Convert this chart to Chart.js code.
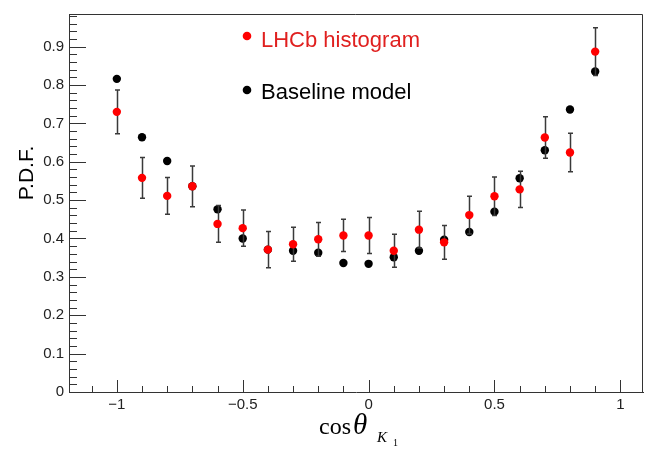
<!DOCTYPE html>
<html>
<head>
<meta charset="utf-8">
<script src="https://cdn.jsdelivr.net/npm/chart.js@4"></script>
<style>
  html, body { margin: 0; padding: 0; background: #fff; }
</style>
</head>
<body>
<canvas id="myChart" width="658" height="457"></canvas>
<script>
// bin centres of cos(theta_K1)
var cosTheta = [-1, -0.9, -0.8, -0.7, -0.6, -0.5, -0.4, -0.3, -0.2, -0.1, 0, 0.1, 0.2, 0.3, 0.4, 0.5, 0.6, 0.7, 0.8, 0.9];
// LHCb histogram + its errors
var lhcb = [0.730, 0.558, 0.511, 0.536, 0.438, 0.427, 0.371, 0.385, 0.398, 0.408, 0.408, 0.368, 0.423, 0.390, 0.461, 0.510, 0.528, 0.663, 0.624, 0.887];
var lhcbErr = [0.057, 0.053, 0.048, 0.053, 0.048, 0.047, 0.047, 0.044, 0.044, 0.042, 0.047, 0.043, 0.048, 0.044, 0.049, 0.050, 0.047, 0.054, 0.050, 0.062];
// baseline model (hidden under the red points at -0.7 and -0.4)
var baseline = [0.816, 0.664, 0.602, 0.536, 0.476, 0.400, 0.371, 0.368, 0.363, 0.336, 0.334, 0.351, 0.368, 0.397, 0.417, 0.470, 0.557, 0.630, 0.736, 0.835];

var xRange = [-1.19, 1.09];
var yRange = [0, 0.985];
var xStep = 0.5, xMinor = 0.1;
var yStep = 0.1, yMinor = 0.02;

function toPoints(ys) {
  return cosTheta.map(function(x, i) { return { x: x, y: ys[i] }; });
}
function fmt(v) {
  var r = Math.round(v * 10) / 10;
  return (r < 0 ? '\u2212' : '') + Math.abs(r);
}

// ticks inside the frame, error bars, legend and axis titles
var rootStyle = {
  id: 'rootStyle',
  beforeDatasetDraw: function(chart, args) {
    if (args.index !== 0) return;
    var ctx = chart.ctx, xs = chart.scales.x, ys = chart.scales.y;
    ctx.save();
    ctx.strokeStyle = '#3a3a3a';
    ctx.lineWidth = 1.5;
    cosTheta.forEach(function(x, i) {
      var px = Math.round(xs.getPixelForValue(x)) + 0.5;
      var top = ys.getPixelForValue(lhcb[i] + lhcbErr[i]);
      var bot = ys.getPixelForValue(lhcb[i] - lhcbErr[i]);
      ctx.beginPath();
      ctx.moveTo(px, top); ctx.lineTo(px, bot);
      ctx.moveTo(px - 2.5, top); ctx.lineTo(px + 2.5, top);
      ctx.moveTo(px - 2.5, bot); ctx.lineTo(px + 2.5, bot);
      ctx.stroke();
    });
    ctx.restore();
  },
  afterDraw: function(chart) {
    var ctx = chart.ctx, a = chart.chartArea, xs = chart.scales.x, ys = chart.scales.y;
    ctx.save();
    // frame top + right
    ctx.strokeStyle = '#333';
    ctx.lineWidth = 1;
    ctx.beginPath();
    ctx.moveTo(a.left, a.top + 0.5); ctx.lineTo(a.right - 0.5, a.top + 0.5); ctx.lineTo(a.right - 0.5, a.bottom);
    ctx.stroke();
    // y ticks
    ctx.beginPath();
    for (var k = 0; k * yMinor <= yRange[1] + 1e-9; k++) {
      var v = k * yMinor;
      var py = Math.round(ys.getPixelForValue(v)) + 0.5;
      var len = (k % 5 === 0) ? 17 : 8;
      ctx.moveTo(a.left, py); ctx.lineTo(a.left + len, py);
    }
    // x ticks
    for (var j = Math.ceil(xRange[0] / xMinor); j * xMinor <= xRange[1] + 1e-9; j++) {
      var px = Math.round(xs.getPixelForValue(j * xMinor)) + 0.5;
      var l2 = (j % 5 === 0) ? 12 : 6;
      ctx.moveTo(px, a.bottom); ctx.lineTo(px, a.bottom - l2);
    }
    ctx.stroke();

    // legend
    var ds = chart.data.datasets;
    var leg = [
      { ds: ds[0], y: 36, base: 47, text: '#e0201f' },
      { ds: ds[1], y: 90, base: 99, text: '#000' }
    ];
    ctx.font = '22px "Liberation Sans", Arial, sans-serif';
    ctx.textAlign = 'left';
    ctx.textBaseline = 'alphabetic';
    leg.forEach(function(it) {
      ctx.fillStyle = it.ds.backgroundColor;
      ctx.beginPath();
      ctx.arc(247, it.y, 4.3, 0, Math.PI * 2);
      ctx.fill();
      ctx.fillStyle = it.text;
      ctx.fillText(it.ds.label, 261, it.base);
    });

    // y title
    ctx.save();
    ctx.translate(33, 173);
    ctx.rotate(-Math.PI / 2);
    ctx.fillStyle = '#000';
    ctx.textAlign = 'center';
    ctx.font = '21px "Liberation Sans", Arial, sans-serif';
    ctx.fillText('P.D.F.', 0, 0);
    ctx.restore();

    // x title: cos theta_{K_1}
    ctx.fillStyle = '#000';
    ctx.textAlign = 'left';
    ctx.font = '24px "Liberation Serif", "Times New Roman", serif';
    ctx.fillText('cos', 319, 434);
    ctx.font = 'italic 29px "Liberation Serif", "Times New Roman", serif';
    ctx.fillText('\u03b8', 353, 434);
    ctx.font = 'italic 15px "Liberation Serif", "Times New Roman", serif';
    ctx.fillText('K', 377, 442);
    ctx.font = '10px "Liberation Serif", "Times New Roman", serif';
    ctx.fillText('1', 393, 446);
    ctx.restore();
  }
};

var ctx = document.getElementById('myChart').getContext('2d');
var chart = new Chart(ctx, {
  type: 'scatter',
  data: {
    datasets: [{
      label: 'LHCb histogram',
      data: toPoints(lhcb),
      backgroundColor: '#ff0000',
      borderWidth: 0,
      pointRadius: 4.2
    },
    {
      label: 'Baseline model',
      data: toPoints(baseline),
      backgroundColor: '#000000',
      borderWidth: 0,
      pointRadius: 4.2
    }]
  },
  options: {
    responsive: false,
    devicePixelRatio: 1,
    animation: false,
    layout: { padding: { top: 3, right: 15, left: 0, bottom: 0 } },
    plugins: {
      legend: { display: false },
      tooltip: { enabled: false }
    },
    scales: {
      x: {
        type: 'linear',
        min: xRange[0], max: xRange[1],
        grid: { display: false, drawTicks: false },
        border: { display: true, color: '#333', width: 1 },
        ticks: {
          stepSize: xStep, includeBounds: false, padding: 4,
          color: '#222', font: { family: '"Liberation Sans", Arial, sans-serif', size: 15 },
          maxRotation: 0, autoSkip: false,
          callback: function(v) { return fmt(v); }
        },
        afterFit: function(s) { s.height = 65; }
      },
      y: {
        type: 'linear',
        min: yRange[0], max: yRange[1],
        grid: { display: false, drawTicks: false },
        border: { display: true, color: '#333', width: 1 },
        ticks: {
          stepSize: yStep, includeBounds: false, padding: 5,
          color: '#222', font: { family: '"Liberation Sans", Arial, sans-serif', size: 15 },
          autoSkip: false,
          callback: function(v) { return fmt(v); }
        },
        afterFit: function(s) { s.width = 69; }
      }
    }
  },
  plugins: [rootStyle]
});
</script>
</body>
</html>
